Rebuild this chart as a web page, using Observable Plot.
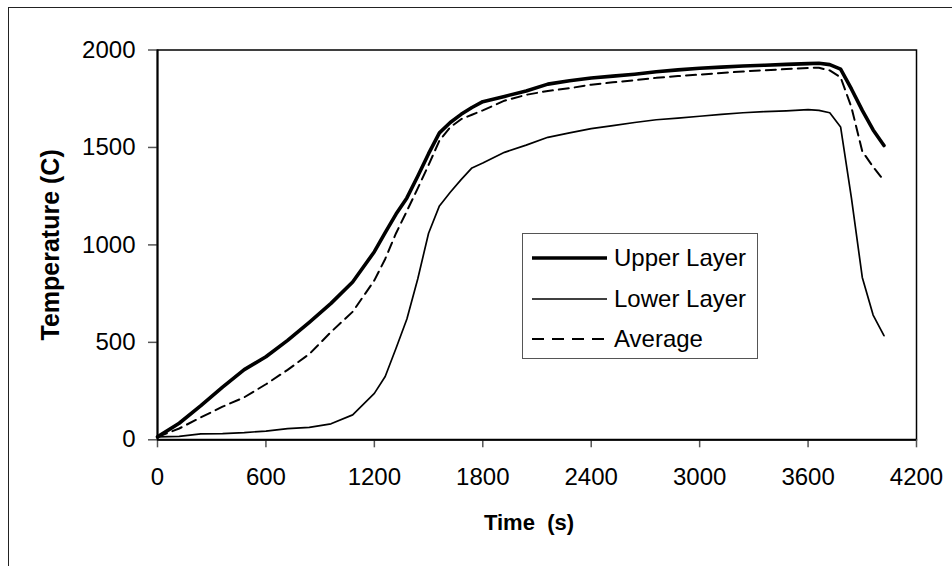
<!DOCTYPE html>
<html><head><meta charset="utf-8">
<script src="https://cdn.jsdelivr.net/npm/d3@7"></script>
<script src="https://cdn.jsdelivr.net/npm/@observablehq/plot@0.6"></script>
<style>
html,body{margin:0;padding:0;background:#fff;}
#wrap{position:relative;width:952px;height:566px;overflow:hidden;font-family:"Liberation Sans",Arial,sans-serif;}
#outer{position:absolute;left:8px;top:7px;width:1000px;height:1000px;border:1.6px solid #222;box-sizing:border-box;pointer-events:none;}
#chart{position:absolute;left:0;top:0;}
#legend{position:absolute;left:522px;top:233px;width:236px;height:126px;border:1.3px solid #555;box-sizing:border-box;background:#fff;}
.row{position:absolute;left:0;height:40px;display:flex;align-items:center;font-size:24px;color:#000;}
.row svg{margin-left:8px;margin-right:6px;}
</style>
</head><body>
<div id="wrap"><div id="outer"></div><div id="chart"></div><div id="legend"></div></div>
<script>
const times =      [0, 120, 240, 360, 480, 600, 720, 840, 960, 1080, 1200, 1260, 1320, 1380, 1440, 1500, 1560, 1620, 1680, 1740, 1800, 1920, 2040, 2160, 2280, 2400, 2520, 2640, 2760, 2880, 3000, 3120, 3240, 3360, 3480, 3600, 3660, 3720, 3780, 3840, 3900, 3960, 4020];
const upperLayer = [15, 85, 175, 270, 360, 426, 510, 603, 700, 810, 965, 1063, 1158, 1241, 1352, 1468, 1575, 1628, 1670, 1705, 1735, 1762, 1790, 1825, 1842, 1856, 1866, 1876, 1888, 1898, 1906, 1912, 1918, 1922, 1926, 1930, 1932, 1925, 1902, 1800, 1690, 1590, 1510];
const lowerLayer = [15, 18, 30, 32, 37, 45, 57, 64, 82, 128, 238, 325, 470, 620, 825, 1060, 1200, 1270, 1335, 1395, 1420, 1475, 1512, 1552, 1575, 1597, 1612, 1628, 1642, 1650, 1660, 1670, 1678, 1684, 1688, 1694, 1690, 1678, 1605, 1240, 833, 640, 534];
const average =    [15, 58, 115, 170, 218, 285, 359, 440, 553, 657, 818, 928, 1060, 1174, 1290, 1410, 1535, 1604, 1645, 1668, 1690, 1740, 1770, 1790, 1804, 1822, 1834, 1845, 1857, 1866, 1874, 1882, 1890, 1896, 1902, 1908, 1909, 1895, 1860, 1706, 1480, 1400, 1330];
const seriesNames = ["Upper Layer", "Lower Layer", "Average"];
const xTicks = [0, 600, 1200, 1800, 2400, 3000, 3600, 4200];
const yTicks = [0, 500, 1000, 1500, 2000];
const xTitle = "Time  (s)";
const yTitle = "Temperature (C)";

const seriesValues = [upperLayer, lowerLayer, average];
const styles = [
  {strokeWidth: 3.6, dash: null},
  {strokeWidth: 1.7, dash: null},
  {strokeWidth: 2, dash: "10,6"}
];
const tables = seriesValues.map((vals, i) => times.map((t, j) => ({t, T: vals[j], series: seriesNames[i]})));

const lineMark = (i) => Plot.line(tables[i], {x: "t", y: "T", stroke: "black", strokeWidth: styles[i].strokeWidth, strokeDasharray: styles[i].dash, strokeLinejoin: "round"});

const plot = Plot.plot({
  width: 952, height: 566,
  marginLeft: 157, marginRight: 36, marginTop: 49.5, marginBottom: 126.7,
  style: {fontFamily: '"Liberation Sans", Arial, sans-serif', fontSize: "24px", background: "transparent", color: "black"},
  x: {domain: [0, 4200]},
  y: {domain: [0, 2000]},
  marks: [
    Plot.frame({stroke: "black", strokeWidth: 1.5}),
    Plot.axisX({ticks: xTicks, tickFormat: d => String(d), tickSize: 8, tickPadding: 20, label: null, stroke: "#555", strokeWidth: 1.5, fill: "black", fontSize: 24}),
    Plot.axisY({ticks: yTicks, tickFormat: d => String(d), tickSize: 9, tickPadding: 13, label: null, stroke: "#555", strokeWidth: 1.5, fill: "black", fontSize: 24}),
    Plot.ruleX([0], {stroke: "black", strokeWidth: 2}),
    Plot.ruleY([0], {stroke: "black", strokeWidth: 2}),
    lineMark(1),
    lineMark(2),
    lineMark(0),
    Plot.text([xTitle], {frameAnchor: "bottom", dy: 83, dx: -8, text: d => d, fontWeight: "bold", fontSize: 22, textAnchor: "middle", lineAnchor: "middle"}),
    Plot.text([yTitle], {frameAnchor: "left", dx: -107, text: d => d, fontWeight: "bold", fontSize: 25, rotate: -90, textAnchor: "middle", lineAnchor: "middle"})
  ]
});
document.getElementById("chart").appendChild(plot);

const legend = document.getElementById("legend");
const rowTops = [4, 45, 85];
seriesNames.forEach((name, i) => {
  const row = document.createElement("div");
  row.className = "row";
  row.style.top = rowTops[i] + "px";
  const s = styles[i];
  row.innerHTML = `<svg width="77" height="10"><line x1="1" y1="5" x2="76" y2="5" stroke="black" stroke-width="${s.strokeWidth}" ${s.dash ? `stroke-dasharray="12,8"` : ""}/></svg><span>${name}</span>`;
  legend.appendChild(row);
});
</script>
</body></html>
